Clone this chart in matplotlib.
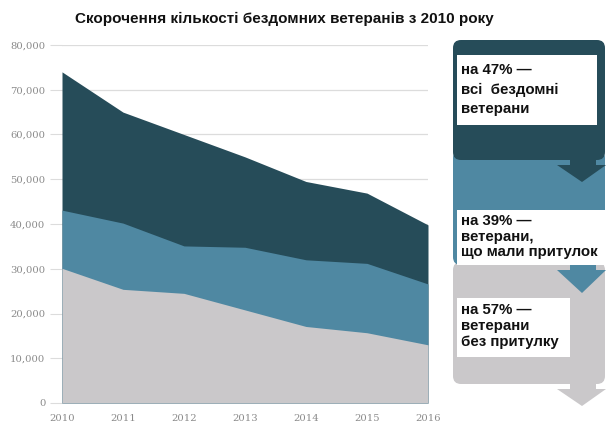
import matplotlib
matplotlib.use("Agg")
import matplotlib.pyplot as plt
from matplotlib.patches import FancyBboxPatch, Polygon, Rectangle

years = [2010, 2011, 2012, 2013, 2014, 2015, 2016]
total = [74000, 65000, 60000, 55000, 49500, 46900, 39800]
sheltered = [43100, 40200, 35100, 34800, 32000, 31200, 26600]
unsheltered = [30100, 25400, 24500, 20800, 17100, 15700, 13000]
yticks = [0, 10000, 20000, 30000, 40000, 50000, 60000, 70000, 80000]
ytick_labels = ["0", "10,000", "20,000", "30,000", "40,000", "50,000", "60,000", "70,000", "80,000"]

title = "Скорочення кількості бездомних ветеранів з 2010 року"
notes = ["на 47% —\nвсі  бездомні\nветерани",
         "на 39% —\nветерани,\nщо мали притулок",
         "на 57% —\nветерани\nбез притулку"]

c_dark = "#264c59"
c_mid = "#4f88a2"
c_grey = "#cac8ca"

W, H = 608, 428
fig = plt.figure(figsize=(W / 100, H / 100), dpi=100)
fig.patch.set_facecolor("white")

ax = fig.add_axes([62 / W, 1 - 403 / H, (428 - 62) / W, (403 - 45) / H])
ax.fill_between(years, 0, total, color=c_dark, lw=0, zorder=2)
ax.fill_between(years, 0, sheltered, color=c_mid, lw=0, zorder=3)
ax.fill_between(years, 0, unsheltered, color=c_grey, lw=0, zorder=4)
ax.set_xlim(years[0], years[-1])
ax.set_ylim(0, 80000)
ax.set_yticks(yticks)
ax.set_yticklabels(ytick_labels)
ax.set_xticks(years)
ax.set_xticklabels([str(y) for y in years])
for s in ax.spines.values():
    s.set_visible(False)
ax.grid(axis="y", color="#dcdcdc", lw=0.9, zorder=0)
ax.tick_params(axis="y", length=9, color="#dcdcdc", pad=3, labelsize=7.2, labelcolor="#8a8a8a")
ax.tick_params(axis="x", length=0, pad=8, labelsize=7.2, labelcolor="#8a8a8a")
for lab in ax.get_xticklabels() + ax.get_yticklabels():
    lab.set_fontfamily("DejaVu Serif")

fig.text(75 / W, 1 - 19 / H, title, fontsize=11, fontweight="bold",
         family="Liberation Sans", va="center", ha="left", color="#111111")

ov = fig.add_axes([0, 0, 1, 1])
ov.set_xlim(0, W)
ov.set_ylim(H, 0)
ov.axis("off")
ov.patch.set_alpha(0)

def panel(y0, y1, color, z):
    ov.add_patch(FancyBboxPatch((453, y0), 152, y1 - y0,
                                boxstyle="round,pad=0,rounding_size=8",
                                fc=color, ec="none", zorder=z))

def arrow(ytop, ytip, color, z):
    ov.add_patch(Rectangle((570, ytop - 6), 26, 7, fc=color, ec="none", zorder=z))
    ov.add_patch(Polygon([(557, ytop), (606, ytop), (582, ytip)],
                         closed=True, fc=color, ec="none", zorder=z))

panel(262, 384, c_grey, 1)
arrow(389, 406, c_grey, 1)
panel(150, 265, c_mid, 2)
arrow(270, 293, c_mid, 2)
panel(40, 160, c_dark, 3)
arrow(165, 182, c_dark, 3)

boxes = [(457, 55, 140, 70), (457, 210, 148, 55), (457, 298, 113, 59)]
spacings = [1.5, 1.15, 1.2]
offsets = [8, 4, 5]
for (bx, by, bw, bh), txt, ls, off in zip(boxes, notes, spacings, offsets):
    ov.add_patch(Rectangle((bx, by), bw, bh, fc="white", ec="none", zorder=5))
    ov.text(bx + 4, by + off, txt, fontsize=10.8, fontweight="bold",
            family="Liberation Sans", va="top", ha="left", color="#111111",
            linespacing=ls, zorder=6)

fig.savefig("out.png", dpi=100, facecolor="white")
